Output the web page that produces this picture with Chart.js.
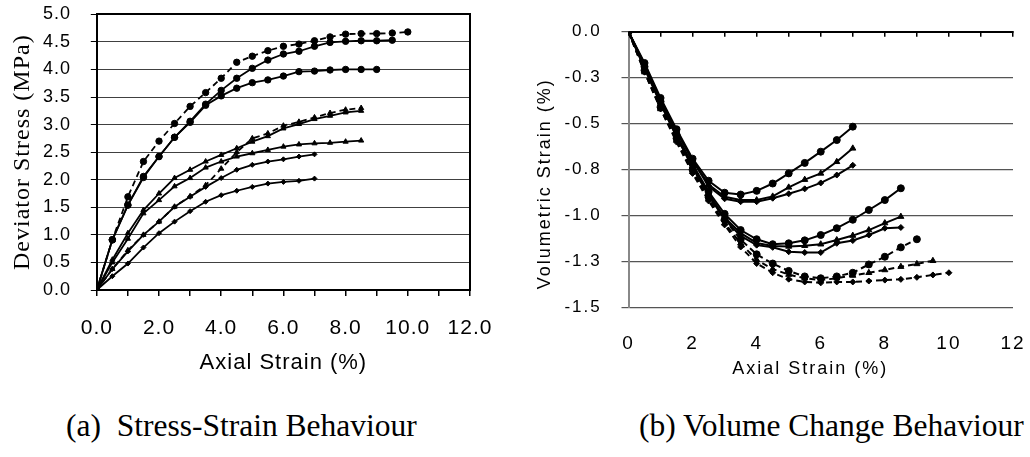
<!DOCTYPE html>
<html><head><meta charset="utf-8">
<script src="https://cdn.jsdelivr.net/npm/chart.js@4/dist/chart.umd.min.js"></script>
<style>
html,body{margin:0;padding:0;background:#fff;}
body{width:1030px;height:457px;position:relative;overflow:hidden;}
#c1{position:absolute;left:0;top:0;width:520px;height:390px;}
#c2{position:absolute;left:520px;top:0;width:510px;height:400px;}
.cap{position:absolute;font-family:"Liberation Serif","Times New Roman",serif;font-size:31.5px;color:#000;white-space:pre;line-height:1;}
</style></head>
<body>
<canvas id="c1" width="520" height="390"></canvas>
<canvas id="c2" width="510" height="400"></canvas>
<div class="cap" style="left:66px;top:410px;">(a)  Stress-Strain Behaviour</div>
<div class="cap" style="left:639px;top:410px;">(b) Volume Change Behaviour</div>
<script>
// ---------- data ----------
const strain = [0,0.5,1,1.5,2,2.5,3,3.5,4,4.5,5,5.5,6,6.5,7,7.5,8,8.5,9,9.5,10];

// (a) deviator stress (MPa)
const stressA = [0,0.91,1.69,2.33,2.70,3.02,3.33,3.58,3.84,4.13,4.24,4.34,4.42,4.46,4.52,4.59,4.64,4.65,4.65,4.66,4.68];
const stressB = [0,0.91,1.54,2.06,2.42,2.77,3.06,3.37,3.62,3.84,4.02,4.17,4.28,4.33,4.42,4.49,4.51,4.52,4.52,4.53];
const stressC = [0,0.91,1.54,2.04,2.42,2.77,3.04,3.35,3.52,3.66,3.76,3.81,3.88,3.96,3.97,3.99,4.00,4.00,4.00];
const stressD = [0,0.38,0.72,1.00,1.24,1.51,1.70,1.90,2.20,2.50,2.75,2.84,2.98,3.05,3.13,3.21,3.27,3.30];
const stressE = [0,0.55,1.03,1.45,1.75,2.03,2.18,2.33,2.45,2.57,2.69,2.79,2.93,3.01,3.10,3.16,3.22,3.25];
const stressF = [0,0.50,0.93,1.39,1.63,1.88,2.03,2.22,2.33,2.42,2.48,2.54,2.60,2.64,2.66,2.67,2.69,2.71];
const stressG = [0,0.38,0.70,1.00,1.24,1.51,1.69,1.87,2.03,2.18,2.27,2.33,2.37,2.42,2.46];
const stressH = [0,0.25,0.48,0.77,1.03,1.24,1.43,1.60,1.72,1.80,1.87,1.93,1.96,1.98,2.02];

// (b) volumetric strain (%)
const volU1 = [0,-0.17,-0.36,-0.53,-0.69,-0.81,-0.875,-0.885,-0.865,-0.825,-0.77,-0.713,-0.652,-0.589,-0.516];
const volU2 = [0,-0.18,-0.37,-0.54,-0.70,-0.83,-0.897,-0.915,-0.915,-0.895,-0.846,-0.804,-0.77,-0.707,-0.634];
const volU3 = [0,-0.18,-0.37,-0.54,-0.70,-0.84,-0.908,-0.924,-0.924,-0.905,-0.881,-0.854,-0.822,-0.779,-0.726];
const volM1 = [0,-0.19,-0.38,-0.56,-0.72,-0.87,-0.99,-1.078,-1.128,-1.155,-1.15,-1.134,-1.105,-1.068,-1.022,-0.969,-0.915,-0.851];
const volM2 = [0,-0.19,-0.39,-0.57,-0.73,-0.88,-1.01,-1.095,-1.148,-1.165,-1.167,-1.163,-1.155,-1.132,-1.108,-1.078,-1.04,-1.005];
const volM3 = [0,-0.20,-0.39,-0.57,-0.74,-0.89,-1.02,-1.11,-1.16,-1.172,-1.196,-1.2,-1.2,-1.15,-1.135,-1.105,-1.068,-1.064];
const volL1 = [0,-0.21,-0.41,-0.58,-0.75,-0.90,-1.02,-1.13,-1.21,-1.26,-1.30,-1.33,-1.34,-1.33,-1.31,-1.265,-1.223,-1.172,-1.128];
const volL2 = [0,-0.22,-0.42,-0.59,-0.76,-0.91,-1.04,-1.15,-1.24,-1.29,-1.32,-1.34,-1.35,-1.34,-1.325,-1.31,-1.295,-1.277,-1.262,-1.245];
const volL3 = [0,-0.22,-0.42,-0.60,-0.77,-0.92,-1.05,-1.17,-1.26,-1.31,-1.345,-1.36,-1.365,-1.36,-1.36,-1.355,-1.35,-1.346,-1.335,-1.322,-1.31];

// tick labels
const xLabelsLeft = ['0.0','2.0','4.0','6.0','8.0','10.0','12.0'];
const yLabelsLeft = ['0.0','0.5','1.0','1.5','2.0','2.5','3.0','3.5','4.0','4.5','5.0'];
const xLabelsRight = ['0','2','4','6','8','10','12'];
const yLabelsRight = ['0.0','-0.3','-0.5','-0.8','-1.0','-1.3','-1.5'];

// ---------- helpers ----------
const SANS = '"Liberation Sans", Arial, sans-serif';
const SERIF = '"Liberation Serif", "Times New Roman", serif';
function pts(ys){ return ys.map((y,i)=>({x:strain[i], y:y})); }
function ds(ys, shape, dashed, r, lw){
  return {
    data: pts(ys), showLine:true, tension:0,
    borderColor:'#000', backgroundColor:'#000', borderWidth:lw,
    borderDash: dashed ? [6,4] : [],
    pointStyle: shape, pointRadius: r, pointHoverRadius: r,
    pointBackgroundColor:'#000', pointBorderColor:'#000', pointBorderWidth:1,
    xAxisID:'x', yAxisID:'y'
  };
}
function spacing(sp){
  return { id:'letterSpacing',
    beforeUpdate(c){ c.ctx.letterSpacing = sp; },
    beforeDraw(c){ c.ctx.letterSpacing = sp; } };
}
function fixH(h){ return (s)=>{ s.height = h; s.paddingLeft = 0; s.paddingRight = 0; }; }
function fixW(w){ return (s)=>{ s.width = w; s.paddingTop = 0; s.paddingBottom = 0; }; }

// ---------- chart (a) ----------
new Chart(document.getElementById('c1'), {
  type:'scatter',
  data:{ datasets:[
    ds(stressA,'circle',true,3.2,1.8),
    ds(stressB,'circle',false,3.2,1.8),
    ds(stressC,'circle',false,3.2,1.8),
    ds(stressD,'triangle',true,3,1.8),
    ds(stressE,'triangle',false,3,1.8),
    ds(stressF,'triangle',false,3,1.8),
    ds(stressG,'rectRot',false,2.5,1.8),
    ds(stressH,'rectRot',false,2.5,1.8)
  ]},
  options:{
    responsive:false, animation:false, events:[],
    layout:{ autoPadding:false, padding:{left:0, top:14.3, right:50, bottom:9.8} },
    plugins:{ legend:{display:false}, tooltip:{enabled:false} },
    scales:{
      x:{ type:'linear', position:'bottom', min:0, max:12,
          ticks:{ stepSize:1, autoSkip:false, maxRotation:0, padding:19.4, color:'#000',
                  font:{family:SANS, size:21},
                  callback:(v)=> (Math.round(v)%2===0 ? xLabelsLeft[Math.round(v)/2] : '') },
          grid:{ drawOnChartArea:false, drawTicks:true, tickLength:6, color:'#000', lineWidth:1.5 },
          border:{ display:true, color:'#000', width:2 },
          title:{ display:true, text:'Axial Strain (%)', color:'#000', font:{family:SANS, size:22}, padding:{top:0, bottom:4} },
          afterFit: fixH(90.2) },
      x2:{ type:'linear', position:'top', min:0, max:12,
           ticks:{ display:false }, grid:{ drawOnChartArea:false, drawTicks:false },
           border:{ display:true, color:'#000', width:2 },
           afterFit: fixH(0) },
      y:{ type:'linear', position:'left', min:0, max:5,
          ticks:{ stepSize:0.5, autoSkip:false, padding:19.8, color:'#000', font:{family:SANS, size:18},
                  callback:(v)=> yLabelsLeft[Math.round(v/0.5)] },
          grid:{ color:'#404040', lineWidth:1, drawTicks:true, tickLength:6, tickColor:'#000' },
          border:{ display:true, color:'#000', width:2 },
          title:{ display:true, text:'Deviator Stress (MPa)', color:'#000', font:{family:SERIF, size:24}, padding:{top:8.6, bottom:0} },
          afterFit: fixW(96.8) },
      y2:{ type:'linear', position:'right', min:0, max:5,
           ticks:{ display:false }, grid:{ drawOnChartArea:false, drawTicks:false },
           border:{ display:true, color:'#000', width:2 },
           afterFit: fixW(0) }
    }
  },
  plugins:[spacing('1px')]
});

// ---------- chart (b) ----------
new Chart(document.getElementById('c2'), {
  type:'scatter',
  data:{ datasets:[
    ds(volU1,'circle',false,3.5,2),
    ds(volU2,'triangle',false,3.5,2),
    ds(volU3,'rectRot',false,3,2),
    ds(volM1,'circle',false,3.5,2),
    ds(volM2,'triangle',false,3.5,2),
    ds(volM3,'rectRot',false,3,2),
    ds(volL1,'circle',true,3.5,2),
    ds(volL2,'triangle',true,3.5,2),
    ds(volL3,'rectRot',true,3,2)
  ]},
  options:{
    responsive:false, animation:false, events:[],
    layout:{ autoPadding:false, padding:{left:0, top:31.7, right:17, bottom:16.2} },
    plugins:{ legend:{display:false}, tooltip:{enabled:false} },
    scales:{
      x:{ type:'linear', position:'bottom', min:0, max:12,
          ticks:{ stepSize:2, autoSkip:false, maxRotation:0, padding:24.9, color:'#000',
                  font:{family:SANS, size:19},
                  callback:(v)=> xLabelsRight[Math.round(v/2)] },
          grid:{ display:false, drawOnChartArea:false, drawTicks:false },
          border:{ display:false },
          title:{ display:true, text:'Axial Strain (%)\u00a0\u00a0\u00a0', color:'#000', font:{family:SANS, size:18}, padding:{top:0, bottom:4} },
          afterFit: fixH(76.1) },
      x2:{ type:'linear', position:'top', min:0, max:12,
           ticks:{ display:false, stepSize:1 },
           grid:{ drawOnChartArea:false, drawTicks:true, tickLength:-5, color:'#000', lineWidth:1.5 },
           border:{ display:true, color:'#000', width:2 },
           afterFit: fixH(0) },
      y:{ type:'linear', position:'left', min:-1.5, max:0,
          ticks:{ stepSize:0.25, autoSkip:false, padding:19.8, color:'#000', font:{family:SANS, size:17},
                  callback:(v)=> yLabelsRight[Math.round(-v/0.25)] },
          grid:{ color:'#555', lineWidth:1.2, drawTicks:true, tickLength:7, tickColor:'#555' },
          border:{ display:true, color:'#888', width:2 },
          title:{ display:true, text:'Volumetric Strain (%)\u00a0\u00a0\u00a0\u00a0', color:'#000', font:{family:SANS, size:18}, padding:{top:14.2, bottom:0} },
          afterFit: fixW(108.5) }
    }
  },
  plugins:[spacing('2px')]
});
</script>
</body></html>
